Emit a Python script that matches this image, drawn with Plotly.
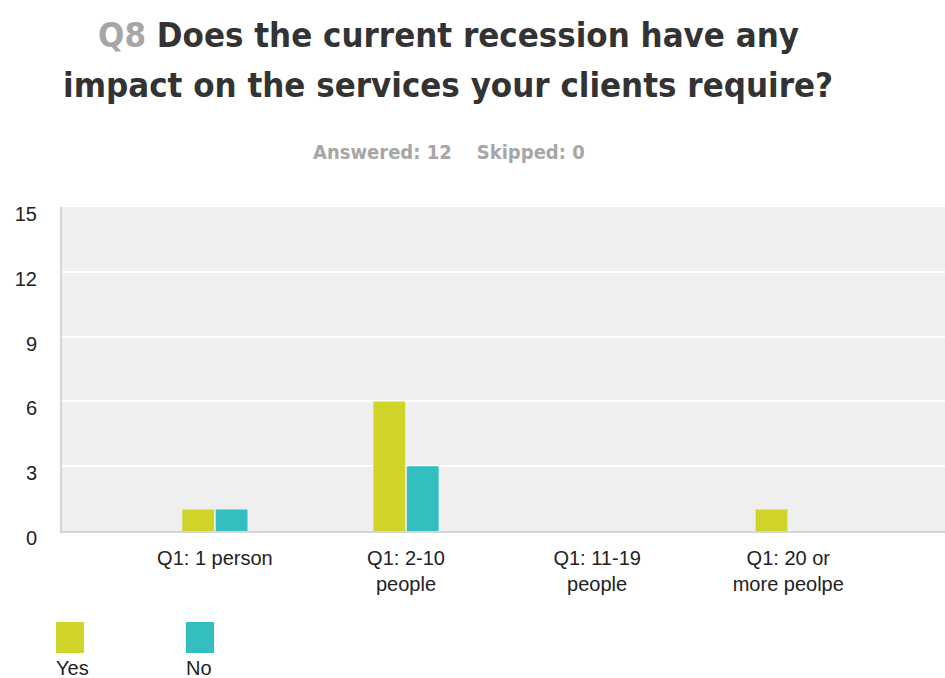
import plotly.graph_objects as go

# Survey results: Q8 answers broken down by Q1 company size
categories = ["Q1: 1 person", "Q1: 2-10<br>people", "Q1: 11-19<br>people", "Q1: 20 or<br>more peolpe"]
series_names = ["Yes", "No"]
yes_counts = [1, 6, 0, 1]
no_counts = [1, 3, 0, 0]
y_ticks = [0, 3, 6, 9, 12, 15]

colors = ["#D0D32A", "#33BEBF"]

W, H = 945, 678
L, R, T, B = 62, 0, 207, 147

NARROW = "DejaVu Sans Condensed, Liberation Sans Narrow, Arial Narrow, sans-serif"
BODY = "Liberation Sans, Arial, sans-serif"

fig = go.Figure()
for name, vals, col in zip(series_names, [yes_counts, no_counts], colors):
    fig.add_trace(go.Bar(
        x=list(range(len(categories))), y=vals, name=name,
        marker=dict(color=col, line=dict(width=0)),
        showlegend=False,
    ))

fig.update_layout(
    width=W, height=H,
    margin=dict(l=L, r=R, t=T, b=B, autoexpand=False),
    paper_bgcolor="white",
    plot_bgcolor="#EFEFEF",
    barmode="group",
    bargap=0.65,
    bargroupgap=0.05,
    font=dict(family=BODY, size=20, color="#222222"),
    xaxis=dict(
        range=[-0.8, 3.82],
        tickvals=list(range(len(categories))),
        ticktext=categories,
        showgrid=False, zeroline=False,
        showline=True, linecolor="#D6D6D6", linewidth=2,
        ticks="", ticklabelstandoff=8,
        tickfont=dict(size=20, color="#222222"),
    ),
    yaxis=dict(
        range=[0, 15],
        tickvals=y_ticks,
        showgrid=True, gridcolor="#FFFFFF", gridwidth=2,
        zeroline=False,
        showline=True, linecolor="#D6D6D6", linewidth=2,
        ticks="", ticklabelstandoff=19, ticklabelshift=7,
        tickfont=dict(size=20, color="#222222"),
    ),
)

plot_h = H - T - B


def py(pixel_y):
    # convert a pixel row into a paper y coordinate
    return (H - B - pixel_y) / plot_h


def px(pixel_x):
    # convert a pixel column into a paper x coordinate
    return (pixel_x - L) / (W - L - R)


# Two-line title, question number in grey
title_lines = [
    "<span style='color:#A6A6A6'>Q8</span> Does the current recession have any",
    "impact on the services your clients require?",
]
for line, row in zip(title_lines, [35, 85]):
    fig.add_annotation(
        text=line,
        xref="paper", yref="paper", x=px(448), y=py(row),
        xanchor="center", yanchor="middle", showarrow=False, align="center",
        font=dict(family=NARROW, size=34.5, color="#333333", weight="bold"),
    )

fig.add_annotation(
    text="Answered: 12&nbsp;&nbsp;&nbsp;&nbsp;Skipped: 0",
    xref="paper", yref="paper", x=px(449), y=py(152),
    xanchor="center", yanchor="middle", showarrow=False,
    font=dict(family=NARROW, size=20, color="#A6A6A6", weight="bold"),
)

# Legend: colour swatch with the series name underneath
legend_x = [56, 186]
for name, col, lx in zip(series_names, colors, legend_x):
    fig.add_shape(
        type="rect", xref="paper", yref="paper",
        x0=px(lx), x1=px(lx + 28), y0=py(653), y1=py(622),
        fillcolor=col, line=dict(width=0),
    )
    fig.add_annotation(
        text=name, xref="paper", yref="paper",
        x=px(lx - 2), y=py(668), xanchor="left", yanchor="middle",
        showarrow=False, font=dict(size=20, color="#222222"),
    )

fig.write_html("out.html")
